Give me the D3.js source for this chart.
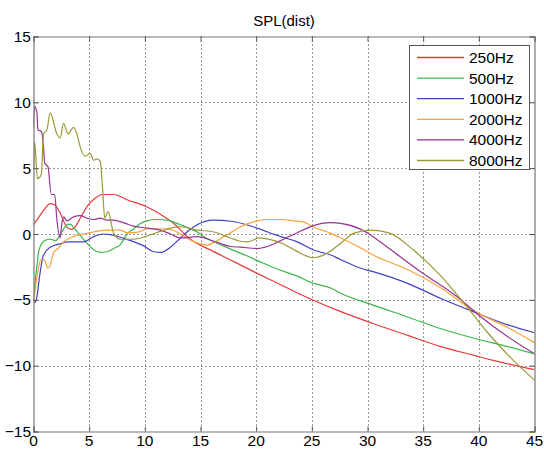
<!DOCTYPE html>
<html>
<head>
<meta charset="utf-8">
<script src="https://cdn.jsdelivr.net/npm/d3@7"></script>
<style>
  html, body { margin: 0; padding: 0; background: #fff; }
  svg { display: block; font-family: "Liberation Sans", Arial, Helvetica, sans-serif; }
</style>
</head>
<body>
<svg id="chart" width="544" height="450"></svg>
<script>
// ---- data ----
const chartTitle = "SPL(dist)";
const seriesNames = ["250Hz", "500Hz", "1000Hz", "2000Hz", "4000Hz", "8000Hz"];
const xTicks = [0, 5, 10, 15, 20, 25, 30, 35, 40, 45];
const yTicks = [-15, -10, -5, 0, 5, 10, 15];

const dist250 = [0, 0.5, 1.0, 1.5, 1.9, 2.4, 3.0, 3.4, 3.8, 4.2, 4.9, 5.5, 6.2, 7.2, 8.4, 10.2, 11.4, 12.6, 14.1, 16.1, 18, 20, 22.8, 24, 27.6, 30.5, 33.6, 36.6, 39.5, 41.3, 45];
const spl250  = [0.7, 1.3, 1.9, 2.3, 2.2, 1.6, 0.5, 0.35, 0.6, 1.2, 2.2, 2.7, 3.0, 3.0, 2.6, 2.05, 1.5, 0.8, -0.4, -1.3, -2.1, -2.95, -4.1, -4.6, -5.9, -6.8, -7.7, -8.55, -9.2, -9.6, -10.3];

const dist500 = [0, 0.3, 0.5, 1.0, 1.5, 2.0, 2.5, 3.0, 3.3, 3.6, 4.2, 4.8, 5.4, 6.0, 6.6, 7.2, 7.8, 8.4, 9.0, 9.6, 10.2, 11.0, 12.0, 13.2, 14.7, 15.5, 16.5, 17.7, 19, 20.6, 22, 23.7, 25, 26.7, 27.6, 30.5, 33.6, 36.6, 39.5, 42.6, 45];
const spl500  = [-4.8, -2.5, -1.2, -0.5, -0.4, -0.5, 0.1, 0.7, 0.75, 0.5, -0.1, -0.7, -1.2, -1.4, -1.35, -1.1, -0.8, 0.0, 0.4, 0.8, 1.0, 1.1, 1.05, 0.7, 0.15, -0.3, -0.7, -1.15, -1.6, -2.2, -2.7, -3.2, -3.7, -4.1, -4.5, -5.4, -6.3, -7.2, -7.9, -8.55, -9.1];

const dist1000 = [0, 0.15, 0.3, 0.5, 0.9, 1.5, 2.4, 3.0, 4.5, 5.4, 6.3, 6.9, 7.8, 8.7, 9.9, 10.8, 11.4, 12.3, 13.2, 14.0, 14.7, 16.1, 17.9, 19.7, 22.2, 23.7, 25.1, 26.7, 27.6, 29.4, 30.5, 33.6, 36.6, 39.5, 42.6, 45];
const spl1000  = [-5.0, -5.2, -4.8, -3.5, -1.6, -1.0, -0.75, -0.6, -0.6, -0.2, 0.0, -0.05, -0.25, -0.5, -0.9, -1.35, -1.4, -1.0, -0.3, 0.3, 0.7, 1.05, 0.95, 0.55, -0.2, -0.6, -1.2, -1.6, -1.95, -2.6, -2.86, -3.75, -4.9, -5.9, -6.9, -7.5];

const dist2000 = [0, 0.1, 0.4, 0.7, 1.0, 1.3, 1.5, 1.8, 2.2, 2.7, 3.6, 4.2, 4.8, 5.4, 6.6, 7.8, 8.4, 9.0, 9.6, 10.2, 11.4, 12.5, 13.2, 14.2, 15.0, 15.6, 16.3, 17.1, 17.9, 18.6, 20.1, 21, 22.2, 23.4, 24.3, 25.1, 26.7, 27.6, 29.4, 30.5, 33.6, 36.6, 39.5, 42.6, 45];
const spl2000  = [-5.3, -4.6, -2.8, -1.9, -2.0, -2.6, -2.4, -1.4, -1.1, -0.6, -0.2, -0.05, 0.05, 0.15, 0.3, 0.3, 0.1, 0.1, 0.2, 0.4, 0.4, 0.3, 0.0, -0.5, -0.75, -0.84, -0.6, -0.2, 0.2, 0.55, 1.0, 1.1, 1.1, 1.0, 0.9, 0.55, 0.05, -0.3, -1.07, -1.6, -2.7, -4.1, -5.8, -7.1, -8.25];

const dist4000 = [0, 0.1, 0.3, 0.4, 0.7, 0.9, 1.0, 1.3, 1.6, 1.9, 2.1, 2.4, 2.5, 2.7, 3.0, 3.6, 4.2, 4.8, 5.4, 6.0, 6.6, 7.2, 8.1, 9.0, 10.2, 11.4, 12.3, 13.2, 14.7, 16.2, 17.7, 18.6, 20.1, 21, 22.2, 23.7, 25, 26.7, 27.6, 29.4, 30.5, 32.1, 35, 38.1, 40.2, 42.6, 45];
const spl4000  = [8.1, 9.7, 9.3, 7.9, 7.8, 6.6, 5.4, 5.1, 3.0, 3.0, 1.1, -0.3, 0.5, 1.3, 1.0, 1.3, 1.4, 1.2, 1.1, 1.2, 1.05, 1.05, 0.85, 0.6, 0.45, 0.3, 0.0, -0.3, -0.2, -0.55, -0.95, -1.0, -1.1, -0.95, -0.5, 0.1, 0.6, 0.86, 0.8, 0.35, -0.2, -1.2, -3.0, -4.8, -6.3, -7.8, -9.1];

const dist8000 = [0, 0.1, 0.35, 0.7, 0.9, 1.2, 1.5, 2.1, 2.4, 2.7, 3.1, 3.6, 3.9, 4.2, 4.6, 5.1, 5.4, 5.7, 6.0, 6.2, 6.4, 6.7, 7.2, 7.8, 9.0, 10.2, 11.4, 12.6, 13.2, 14.7, 16.2, 17.7, 18.6, 19.2, 20.3, 21.6, 22.2, 23.7, 25.1, 26.4, 27.6, 28.8, 30.3, 32, 34.1, 36.6, 38.9, 40.8, 43.1, 45];
const spl8000  = [4.9, 7.0, 4.2, 4.5, 7.6, 7.9, 9.2, 7.6, 7.3, 8.4, 7.6, 8.1, 7.6, 6.6, 5.9, 6.1, 5.6, 5.7, 5.5, 3.5, 1.2, 1.7, 0.05, -0.4, -0.4, -0.15, 0.2, 0.5, 0.55, 0.3, 0.15, -0.3, -0.55, -0.6, -0.3, -0.5, -0.66, -1.34, -1.8, -1.45, -0.7, 0.07, 0.3, 0.07, -1.2, -3.2, -5.5, -7.5, -9.6, -11.1];

const seriesColors = ["#e8393c", "#3cb64a", "#4141c4", "#f9a23a", "#953595", "#9a9a38"];

// ---- layout ----
const svg = d3.select("#chart");
const plotLeft = 33.5, plotRight = 534.5, plotTop = 36.5, plotBottom = 431.5;

const x = d3.scaleLinear().domain([0, 45]).range([plotLeft, plotRight]);
const y = d3.scaleLinear().domain([-15, 15]).range([plotBottom, plotTop]);

// grid
const grid = svg.append("g");
grid.selectAll(".gx").data(xTicks.slice(1, -1)).enter().append("line")
  .attr("x1", d => Math.round(x(d)) + 0.5).attr("x2", d => Math.round(x(d)) + 0.5)
  .attr("y1", plotTop).attr("y2", plotBottom)
  .attr("stroke", "#333").attr("stroke-width", 1).attr("stroke-dasharray", "1,3");
grid.selectAll(".gy").data(yTicks.slice(1, -1)).enter().append("line")
  .attr("y1", d => Math.round(y(d)) + 0.5).attr("y2", d => Math.round(y(d)) + 0.5)
  .attr("x1", plotLeft).attr("x2", plotRight)
  .attr("stroke", "#333").attr("stroke-width", 1).attr("stroke-dasharray", "1,3");

// series
const dists = [dist250, dist500, dist1000, dist2000, dist4000, dist8000];
const spls = [spl250, spl500, spl1000, spl2000, spl4000, spl8000];

svg.append("clipPath").attr("id", "clip").append("rect")
  .attr("x", plotLeft).attr("y", plotTop).attr("width", plotRight - plotLeft).attr("height", plotBottom - plotTop);

const line = d3.line().x(d => x(d[0])).y(d => y(d[1])).curve(d3.curveMonotoneX);
const plotG = svg.append("g").attr("clip-path", "url(#clip)");
seriesNames.forEach((name, i) => {
  const pts = dists[i].map((d, j) => [d, spls[i][j]]);
  plotG.append("path").datum(pts)
    .attr("d", line)
    .attr("fill", "none")
    .attr("stroke", seriesColors[i])
    .attr("stroke-width", 1.2);
});

// axes (box with inward ticks)
const axisColor = "#777";
const xAxisB = d3.axisBottom(x).tickValues(xTicks).tickSize(-5).tickFormat("");
const xAxisT = d3.axisTop(x).tickValues(xTicks).tickSize(-5).tickFormat("");
const yAxisL = d3.axisLeft(y).tickValues(yTicks).tickSize(-5).tickFormat("");
const yAxisR = d3.axisRight(y).tickValues(yTicks).tickSize(-5).tickFormat("");
[[xAxisB, `translate(0,${plotBottom})`], [xAxisT, `translate(0,${plotTop})`],
 [yAxisL, `translate(${plotLeft},0)`], [yAxisR, `translate(${plotRight},0)`]].forEach(([ax, tr]) => {
  const g = svg.append("g").attr("transform", tr).call(ax);
  g.selectAll("path.domain").attr("stroke", axisColor).attr("stroke-width", 1.2);
  g.selectAll(".tick line").attr("stroke", "#555");
});

// tick labels
const fmt = v => (v < 0 ? "\u2212" + Math.abs(v) : String(v));
svg.append("g").selectAll("text").data(xTicks).enter().append("text")
  .attr("x", d => x(d)).attr("y", 446)
  .attr("text-anchor", "middle")
  .attr("font-size", 15.5).attr("fill", "#000")
  .text(fmt);
svg.append("g").selectAll("text").data(yTicks).enter().append("text")
  .attr("x", 31).attr("y", d => y(d)).attr("dy", "0.36em")
  .attr("text-anchor", "end")
  .attr("font-size", 15.5).attr("fill", "#000")
  .text(fmt);

// title
svg.append("text").attr("x", (plotLeft + plotRight) / 2).attr("y", 25.5)
  .attr("text-anchor", "middle").attr("font-size", 15).attr("fill", "#000")
  .text(chartTitle);

// legend
const lg = svg.append("g");
lg.append("rect").attr("x", 409.5).attr("y", 45.5).attr("width", 120).attr("height", 124)
  .attr("fill", "#fff").attr("stroke", "#555").attr("stroke-width", 1);
seriesNames.forEach((name, i) => {
  const yy = 57.5 + i * 20.6;
  lg.append("line").attr("x1", 417).attr("x2", 464).attr("y1", yy).attr("y2", yy)
    .attr("stroke", seriesColors[i]).attr("stroke-width", 1.3);
  lg.append("text").attr("x", 469).attr("y", yy).attr("dy", "0.36em")
    .attr("font-size", 15.5).attr("fill", "#000").text(name);
});
</script>
</body>
</html>
